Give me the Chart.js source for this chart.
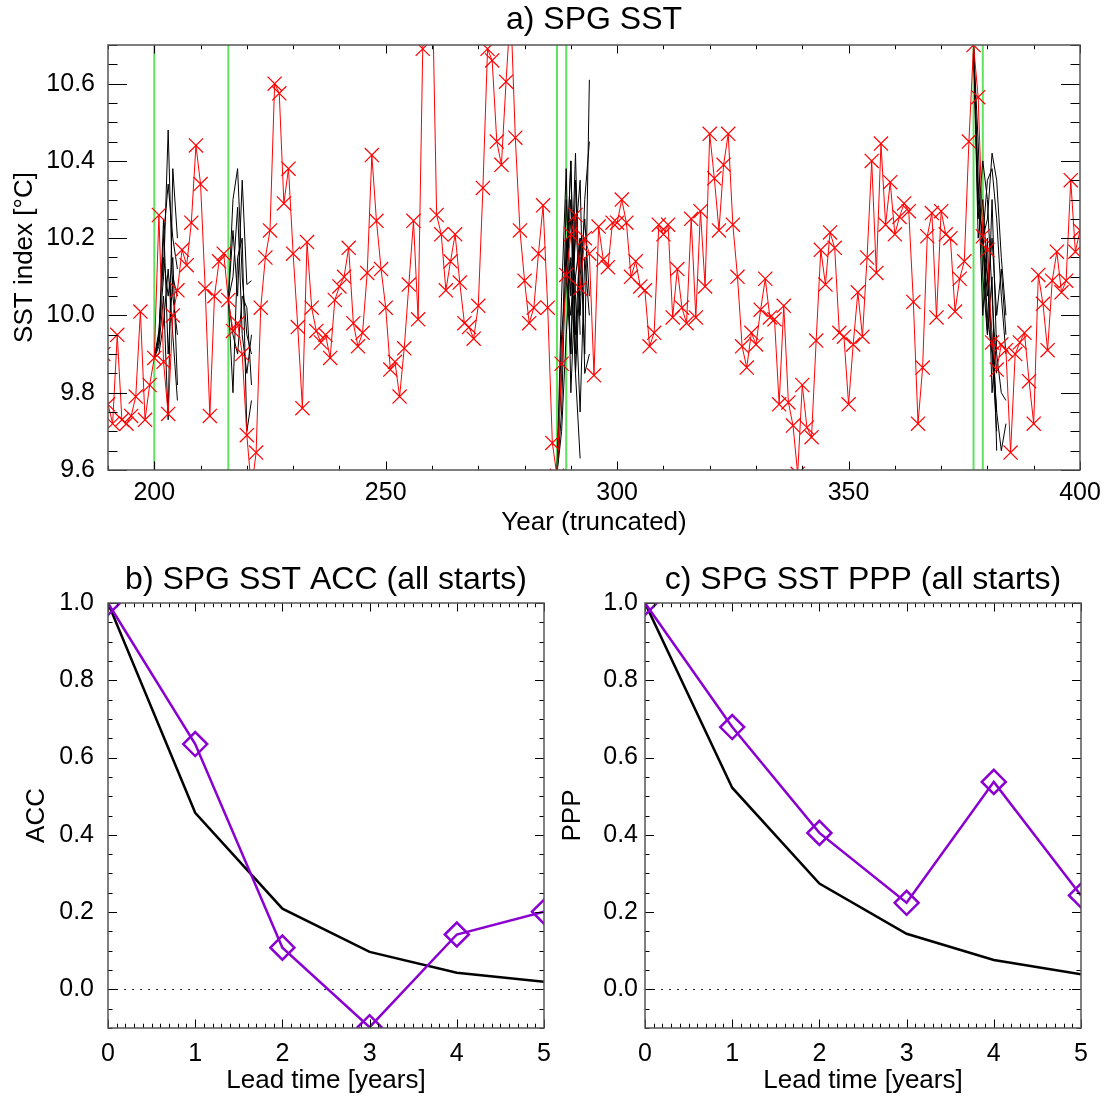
<!DOCTYPE html>
<html>
<head>
<meta charset="utf-8">
<title>SPG SST</title>
<script src="https://cdn.jsdelivr.net/npm/chart.js@4.4.1/dist/chart.umd.min.js"></script>
<style>
  html, body { margin: 0; padding: 0; background: #fff; }
  #page { position: relative; width: 1106px; height: 1097px; overflow: hidden; }
  canvas { position: absolute; }
</style>
</head>
<body>
<div id="page">
  <canvas id="sstChart" width="1106" height="540" style="left:0;top:0"></canvas>
  <canvas id="accChart" width="560" height="557" style="left:0;top:540px"></canvas>
  <canvas id="pppChart" width="566" height="557" style="left:540px;top:540px"></canvas>
</div>
<script>
const FONT = "'Liberation Sans', Arial, Helvetica, sans-serif";
const RED = "#ff0000";
const PURPLE = "#8a00d0";
const GREEN = "#5fe35f";

// a) SPG SST index, one value per model year starting at firstYear
const firstYear = 189;
const sstIndex = [
    9.90, 9.77, 9.72, 9.95, 9.73, 9.72, 9.74, 9.79, 10.01, 9.73, 9.82,         // 189-199
    9.89, 10.26, 9.88, 9.745, 10.00, 10.065, 10.17, 10.13, 10.24, 10.44,       // 200-209
    10.34, 10.07, 9.74, 10.05, 10.14, 10.16, 10.04, 9.96, 9.98, 9.90,          // 210-219
    9.69, 9.55, 9.645, 10.02, 10.15, 10.22, 10.60, 10.575, 10.29, 10.38,       // 220-229
    10.16, 9.97, 9.76, 10.19, 10.02, 9.96, 9.93, 9.95, 9.89, 10.04,            // 230-239
    10.075, 10.10, 10.175, 9.98, 9.92, 9.955, 10.11, 10.415, 10.245, 10.12,    // 240-249
    10.02, 9.86, 9.88, 9.79, 9.915, 10.08, 10.245, 9.99, 10.69, 10.95,         // 250-259
    10.90, 10.26, 10.21, 10.065, 10.14, 10.21, 10.085, 9.98, 9.97, 9.94,       // 260-269
    10.025, 10.33, 10.69, 10.66, 10.45, 10.39, 10.605, 10.80, 10.46, 10.22,    // 270-279
    10.09, 9.98, 10.02, 10.16, 10.285, 10.02, 9.67, 9.585, 9.875, 10.105,      // 280-289
    10.21, 10.26, 10.07, 10.20, 10.16, 9.845, 10.23, 10.145, 10.125, 10.24,    // 290-299
    10.24, 10.30, 10.24, 10.10, 10.14, 10.075, 10.065, 9.92, 9.955, 10.235,    // 300-309
    10.21, 10.235, 9.995, 10.12, 10.02, 9.98, 10.25, 9.995, 10.27, 10.075,     // 310-319
    10.47, 10.355, 10.22, 10.39, 10.47, 10.235, 10.10, 9.92, 9.865, 9.955,     // 320-329
    9.925, 10.015, 10.095, 9.995, 9.99, 9.77, 10.025, 9.775, 9.715, 9.59,      // 330-339
    9.82, 9.71, 9.685, 9.935, 10.17, 10.08, 10.215, 10.175, 9.955, 9.945,      // 340-349
    9.77, 9.925, 10.06, 9.945, 10.15, 10.40, 10.11, 10.445, 10.235, 10.345,    // 350-359
    10.21, 10.255, 10.29, 10.27, 10.035, 9.72, 9.865, 10.205, 10.265, 9.995,   // 360-369
    10.27, 10.21, 10.20, 10.01, 10.095, 10.14, 10.45, 10.70, 10.565, 10.205,   // 370-379
    10.17, 9.93, 9.86, 9.925, 9.91, 9.645, 9.90, 9.93, 9.955, 9.83,            // 380-389
    9.72, 10.105, 10.03, 9.91, 10.09, 10.165, 10.06, 10.09, 10.35, 10.165,     // 390-399
    10.22, 9.98                                                                // 400-401
];

// hindcast start years; each member runs lead 0..5 from its start
const startYears = [200, 216, 287, 289, 377, 379];
const members200 = [
    [9.89, 9.95, 10.10, 10.48, 10.05, 9.95],
    [9.89, 9.93, 10.20, 10.34, 10.20, 10.12],
    [9.89, 9.92, 10.05, 9.73, 10.38, 10.20],
    [9.89, 9.96, 10.15, 10.05, 10.15, 9.82],
    [9.89, 9.90, 9.98, 10.12, 9.95, 9.78],
    [9.89, 9.94, 10.25, 9.90, 10.10, 10.05],
];
const members216 = [
    [10.04, 10.30, 10.38, 10.10, 9.95, 9.90],
    [10.04, 10.22, 10.05, 10.35, 10.08, 10.09],
    [10.04, 9.80, 10.15, 10.20, 9.70, 9.78],
    [10.04, 10.10, 10.28, 9.95, 9.85, 9.95],
    [10.04, 9.95, 9.90, 10.05, 10.02, 9.82],
];
const members287 = [
    [9.59, 9.85, 10.30, 10.05, 10.42, 9.95],
    [9.59, 9.95, 10.10, 10.40, 9.90, 10.15],
    [9.59, 9.75, 10.20, 9.90, 10.25, 10.05],
    [9.59, 9.70, 9.95, 10.15, 9.85, 9.63],
    [9.59, 10.05, 10.38, 9.80, 10.10, 10.20],
];
const members289 = [
    [10.10, 10.25, 9.95, 10.20, 9.90, 10.61],
    [10.10, 9.90, 10.35, 10.00, 10.30, 10.45],
    [10.10, 10.30, 10.05, 9.75, 10.15, 10.00],
    [10.10, 10.00, 10.20, 10.35, 9.85, 9.90],
    [10.10, 10.40, 9.85, 10.10, 10.25, 10.05],
];
const members377 = [
    [10.70, 10.30, 10.20, 10.00, 9.90, 9.70],
    [10.70, 10.25, 10.40, 10.30, 10.05, 9.85],
    [10.70, 10.45, 10.10, 9.95, 10.10, 9.65],
    [10.70, 10.35, 10.00, 10.20, 9.80, 9.95],
    [10.70, 10.20, 10.30, 10.10, 9.95, 9.75],
];
const members379 = [
    [10.20, 10.35, 10.38, 10.25, 10.05, 9.90],
    [10.20, 10.25, 10.42, 10.35, 10.15, 10.00],
    [10.20, 9.95, 10.30, 9.90, 9.80, 9.78],
    [10.20, 10.10, 9.92, 9.75, 9.65, 9.72],
    [10.20, 10.05, 10.20, 10.00, 10.12, 9.95],
];
const ensembles = [members200, members216, members287, members289, members377, members379];

const yearTicks = [200, 250, 300, 350, 400];
const sstTicks = [9.6, 9.8, 10.0, 10.2, 10.4, 10.6];

// b) and c) skill against lead time: model (diamonds) and persistence (black)
const leadYears = [0, 1, 2, 3, 4, 5];
const accModel = [1.0, 0.635, 0.108, -0.098, 0.142, 0.201];
const accPersistence = [1.0, 0.457, 0.209, 0.097, 0.043, 0.020];
const pppModel = [1.0, 0.679, 0.405, 0.224, 0.537, 0.243];
const pppPersistence = [1.0, 0.522, 0.274, 0.144, 0.076, 0.039];
const skillTicks = [0.0, 0.2, 0.4, 0.6, 0.8, 1.0];

function stepValues(min, max, step) {
    const out = [];
    for (let n = Math.ceil(min / step - 1e-6); n <= Math.floor(max / step + 1e-6); n++) {
        out.push(n * step);
    }
    return out;
}

function onStep(v, step) {
    const r = v / step;
    return Math.abs(r - Math.round(r)) < 1e-6;
}

// IDL-like frame: inward ticks on all four sides, panel title, marker lines
const idlAxes = {
    id: "idlAxes",
    beforeDatasetsDraw(chart, args, opts) {
        const { ctx, chartArea: a, scales: { x, y } } = chart;
        ctx.save();
        if (opts.markers) {
            ctx.strokeStyle = GREEN;
            ctx.lineWidth = 2;
            ctx.beginPath();
            for (const yr of opts.markers) {
                const px = x.getPixelForValue(yr);
                ctx.moveTo(px, a.top);
                ctx.lineTo(px, a.bottom);
            }
            ctx.stroke();
        }
        if (opts.zeroLine) {
            const py = Math.round(y.getPixelForValue(0)) + 0.5;
            ctx.strokeStyle = "#222";
            ctx.lineWidth = 1.2;
            ctx.setLineDash([2, 6]);
            ctx.beginPath();
            ctx.moveTo(a.left, py);
            ctx.lineTo(a.right, py);
            ctx.stroke();
        }
        ctx.restore();
    },
    afterDatasetsDraw(chart, args, opts) {
        const { ctx, chartArea: a, scales: { x, y } } = chart;
        ctx.save();
        ctx.strokeStyle = "#000";
        ctx.lineWidth = 1;
        ctx.beginPath();
        for (const v of stepValues(x.min, x.max, opts.xMinor)) {
            const px = Math.round(x.getPixelForValue(v)) + 0.5;
            const len = onStep(v, opts.xMajor) ? opts.xLen : opts.xLen / 2;
            ctx.moveTo(px, a.bottom);
            ctx.lineTo(px, a.bottom - len);
            ctx.moveTo(px, a.top);
            ctx.lineTo(px, a.top + len);
        }
        for (const v of stepValues(y.min, y.max, opts.yMinor)) {
            const py = Math.round(y.getPixelForValue(v)) + 0.5;
            const len = onStep(v, opts.yMajor) ? opts.yLen : opts.yLen / 2;
            ctx.moveTo(a.left, py);
            ctx.lineTo(a.left + len, py);
            ctx.moveTo(a.right, py);
            ctx.lineTo(a.right - len, py);
        }
        ctx.stroke();
        ctx.strokeStyle = "#555";
        ctx.lineWidth = 1.5;
        ctx.strokeRect(a.left, a.top, a.right - a.left, a.bottom - a.top);

        ctx.fillStyle = "#000";
        ctx.font = `32px ${FONT}`;
        ctx.textAlign = "center";
        ctx.textBaseline = "middle";
        ctx.fillText(opts.title, (a.left + a.right) / 2, opts.titleY);
        ctx.restore();
    },
};

function axis(min, max, ticks, format, title, opts) {
    return {
        type: "linear",
        min: min,
        max: max,
        afterBuildTicks: (scale) => { scale.ticks = ticks.map((v) => ({ value: v })); },
        afterFit: (scale) => {
            // edge labels may overhang the frame; keep the plot box fixed
            scale.paddingLeft = scale.paddingRight = 0;
            scale.paddingTop = scale.paddingBottom = 0;
            if (opts.width) scale.width = opts.width;
            if (opts.height) scale.height = opts.height;
        },
        grid: { display: false, drawTicks: false },
        border: { display: false },
        ticks: {
            color: "#000",
            font: { family: FONT, size: 25 },
            padding: opts.tickPad,
            maxRotation: 0,
            autoSkip: false,
            callback: format,
        },
        title: {
            display: true,
            text: title,
            color: "#000",
            font: { family: FONT, size: 26 },
            padding: opts.titlePad,
        },
    };
}

function baseOptions(padding, plugin, scales) {
    return {
        responsive: false,
        animation: false,
        events: [],
        layout: { padding: padding },
        plugins: { legend: { display: false }, tooltip: { enabled: false }, title: { display: false }, idlAxes: plugin },
        scales: scales,
    };
}

const ensembleDatasets = [];
startYears.forEach((start, s) => {
    for (const member of ensembles[s]) {
        ensembleDatasets.push({
            data: member.map((v, lead) => ({ x: start + lead, y: v })),
            borderColor: "#000",
            borderWidth: 1,
            pointRadius: 0,
            clip: 0,
        });
    }
});

new Chart(document.getElementById("sstChart"), {
    type: "line",
    data: {
        datasets: [{
            data: sstIndex.map((v, i) => ({ x: firstYear + i, y: v })),
            borderColor: RED,
            borderWidth: 1,
            pointStyle: "crossRot",
            pointRadius: 10,
            pointBorderColor: RED,
            pointBorderWidth: 1.2,
            clip: 0,
        }, ...ensembleDatasets],
    },
    options: baseOptions(
        { left: 0, right: 26, top: 45, bottom: 0 },
        { title: "a) SPG SST", titleY: 20, markers: startYears,
          xMajor: 50, xMinor: 10, xLen: 8.5, yMajor: 0.2, yMinor: 0.05, yLen: 19 },
        {
            x: axis(190, 400, yearTicks, (v) => String(v), "Year (truncated)",
                { height: 70, tickPad: 8, titlePad: { top: 0, bottom: 2 } }),
            y: axis(9.6, 10.7, sstTicks, (v) => v.toFixed(1), "SST index [°C]",
                { width: 108, tickPad: 13, titlePad: { top: 9, bottom: 0 } }),
        }
    ),
    plugins: [idlAxes],
});

function skillChart(canvasId, title, yTitle, model, persistence, yWidth, rightPad, tickPad, titlePad) {
    return new Chart(document.getElementById(canvasId), {
        type: "line",
        data: {
            datasets: [{
                data: leadYears.map((t, i) => ({ x: t, y: model[i] })),
                borderColor: PURPLE,
                borderWidth: 2.5,
                pointStyle: "rectRot",
                pointRadius: 12,
                pointBorderColor: PURPLE,
                pointBackgroundColor: "rgba(0,0,0,0)",
                pointBorderWidth: 2.5,
                clip: 0,
            }, {
                data: leadYears.map((t, i) => ({ x: t, y: persistence[i] })),
                borderColor: "#000",
                borderWidth: 2.5,
                pointRadius: 0,
                clip: 0,
            }],
        },
        options: baseOptions(
            { left: 0, right: rightPad, top: 63, bottom: 0 },
            { title: title, titleY: 40, zeroLine: true,
              xMajor: 1, xMinor: 0.1, xLen: 8.5, yMajor: 0.2, yMinor: 0.05, yLen: 9 },
            {
                x: axis(0, 5, leadYears, (v) => String(v), "Lead time [years]",
                    { height: 69, tickPad: 11, titlePad: { top: 0, bottom: 1 } }),
                y: axis(-0.1, 1.0, skillTicks, (v) => v.toFixed(1), yTitle,
                    { width: yWidth, tickPad: tickPad, titlePad: { top: titlePad, bottom: 0 } }),
            }
        ),
        plugins: [idlAxes],
    });
}

skillChart("accChart", "b) SPG SST ACC (all starts)", "ACC", accModel, accPersistence, 108, 16, 14, 21);
skillChart("pppChart", "c) SPG SST PPP (all starts)", "PPP", pppModel, pppPersistence, 105, 25, 7, 17);
</script>
</body>
</html>
